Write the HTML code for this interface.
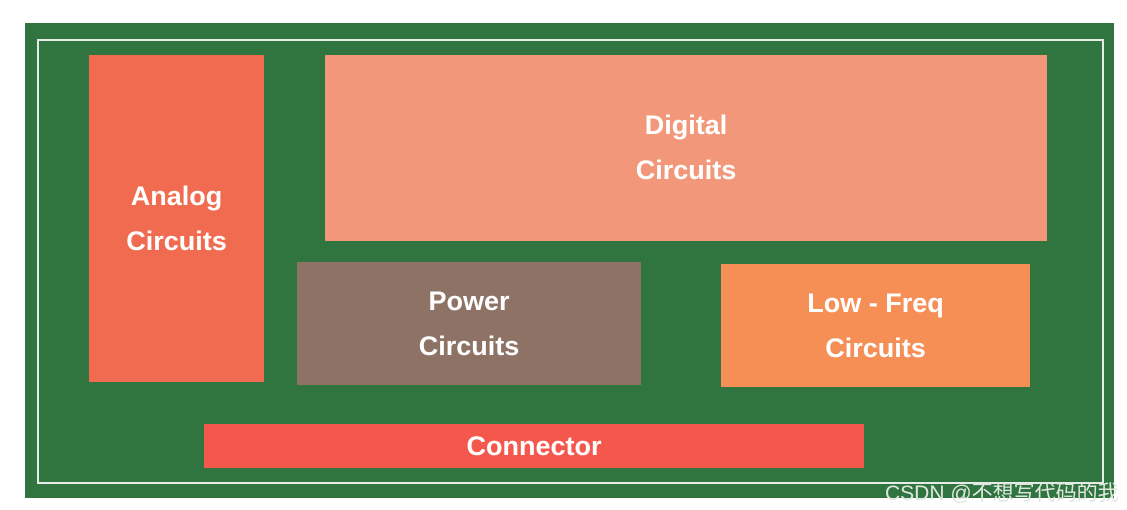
<!DOCTYPE html>
<html><head><meta charset="utf-8"><style>
html,body{margin:0;padding:0;background:#fff;width:1127px;height:510px;overflow:hidden;position:relative;font-family:"Liberation Sans",sans-serif}
.b{position:absolute;display:flex;align-items:center;justify-content:center;text-align:center;color:#fff;font-weight:bold;font-size:27px;line-height:45px}
</style></head><body>
<div style="position:absolute;left:25px;top:23px;width:1089px;height:475px;background:#30753f"></div>
<div style="position:absolute;left:37px;top:39px;width:1063px;height:441px;border:2px solid #e6ece6"></div>
<div class="b" style="left:89px;top:55px;width:175px;height:327px;background:#f06b4f">Analog<br>Circuits</div>
<div class="b" style="left:325px;top:55px;width:722px;height:186px;background:#f3977a">Digital<br>Circuits</div>
<div class="b" style="left:297px;top:262px;width:344px;height:123px;background:#8d7265">Power<br>Circuits</div>
<div class="b" style="left:721px;top:264px;width:309px;height:123px;background:#f58f55">Low - Freq<br>Circuits</div>
<div class="b" style="left:204px;top:424px;width:660px;height:44px;background:#f4584d">Connector</div>
<div style="position:absolute;left:885px;top:477px;font-size:21px;color:#dfe6df;font-family:'Liberation Sans','Noto Sans CJK SC',sans-serif;white-space:nowrap">CSDN @不想写代码的我</div>
</body></html>
